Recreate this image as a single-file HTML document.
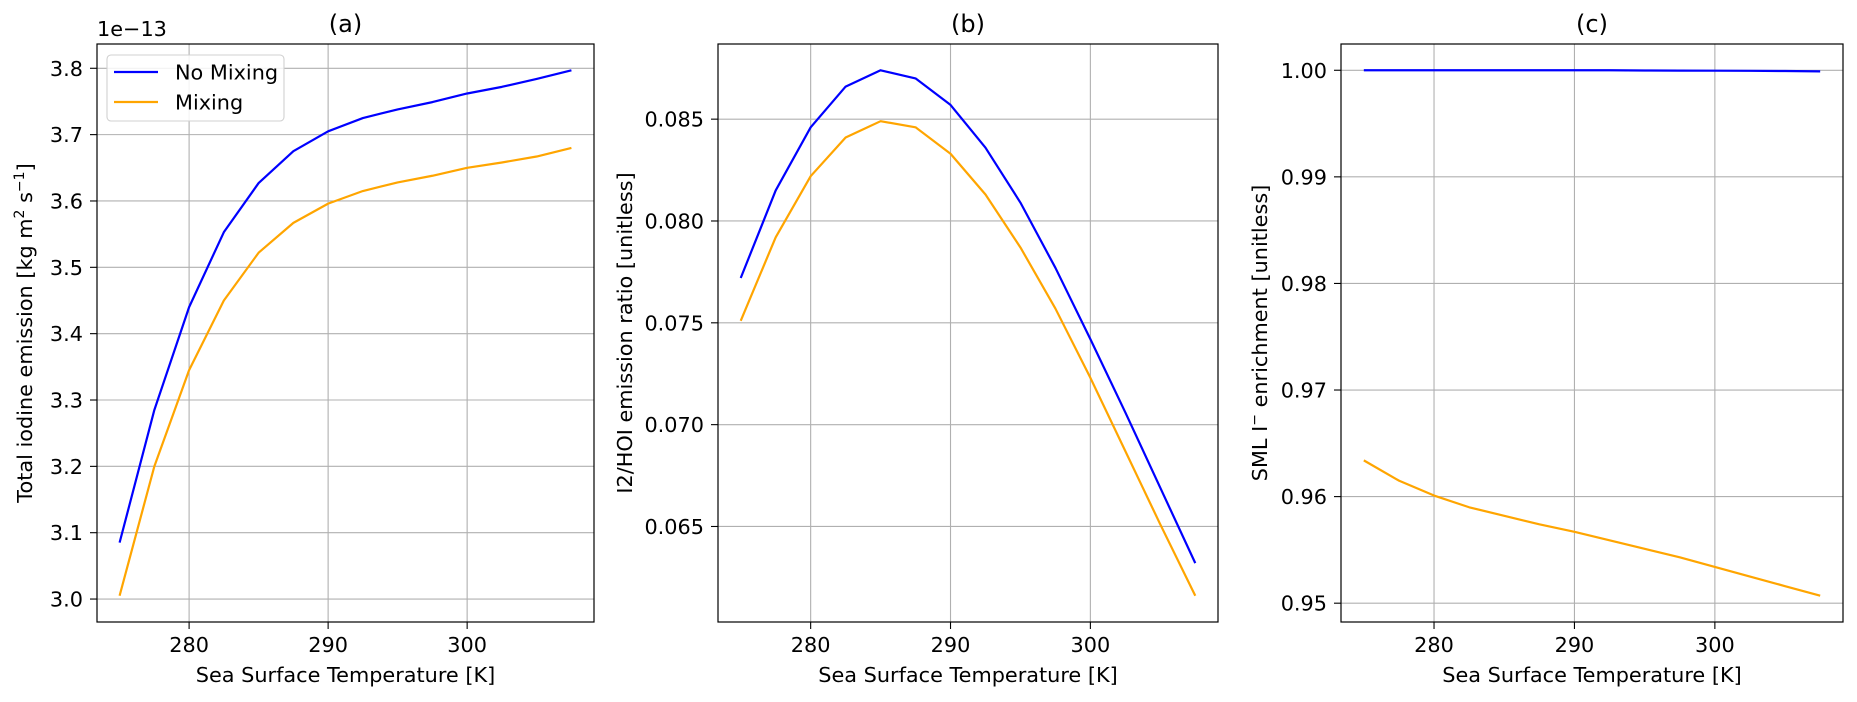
<!DOCTYPE html>
<html><head><meta charset="utf-8"><style>
html,body{margin:0;padding:0;background:#fff;}
svg{display:block;font-family:"DejaVu Sans","Liberation Sans",sans-serif;}
</style></head><body>
<svg id="fig" width="1857" height="702" viewBox="0 0 1857 702" xmlns="http://www.w3.org/2000/svg"></svg>
<script>
const sst = [275,277.5,280,282.5,285,287.5,290,292.5,295,297.5,300,302.5,305,307.5];
const aNoMix = [3.085,3.285,3.44,3.553,3.627,3.675,3.705,3.725,3.738,3.749,3.762,3.772,3.784,3.797];
const aMix = [3.005,3.2,3.345,3.45,3.522,3.567,3.596,3.615,3.628,3.638,3.650,3.658,3.667,3.680];
const bNoMix = [0.0772,0.0815,0.0846,0.0866,0.0874,0.0870,0.0857,0.0836,0.0809,0.0777,0.0742,0.0706,0.0669,0.0632];
const bMix = [0.0751,0.0792,0.0822,0.0841,0.0849,0.0846,0.0833,0.0813,0.0787,0.0757,0.0723,0.0687,0.0651,0.0616];
const cNoMix = [1.0000,1.0000,1.0000,1.0000,1.0000,1.0000,1.0000,1.0000,0.99998,0.99997,0.99996,0.99995,0.99993,0.9999];
const cMix = [0.9634,0.9615,0.9601,0.9590,0.9582,0.9574,0.9567,0.9559,0.9551,0.9543,0.9534,0.9525,0.9516,0.9507];
const xTicks = [280,290,300];
const aTicks = [3.0,3.1,3.2,3.3,3.4,3.5,3.6,3.7,3.8];
const aTickLabels = ["3.0","3.1","3.2","3.3","3.4","3.5","3.6","3.7","3.8"];
const bTicks = [0.065,0.070,0.075,0.080,0.085];
const bTickLabels = ["0.065","0.070","0.075","0.080","0.085"];
const cTicks = [0.95,0.96,0.97,0.98,0.99,1.00];
const cTickLabels = ["0.95","0.96","0.97","0.98","0.99","1.00"];

const NS="http://www.w3.org/2000/svg";
const svg=document.getElementById('fig');
function mk(tag,attrs,parent){const e=document.createElementNS(NS,tag);for(const k in attrs)e.setAttribute(k,attrs[k]);(parent||svg).appendChild(e);return e;}

const TOP=44,BOT=622,FS=20.8;
function panel(cfg){
  const g=mk('g',{});
  
  
  const L=cfg.left,R=cfg.right;
  const xmin=Math.min(...sst),xmax=Math.max(...sst),xm=(xmax-xmin)*0.05;
  const x0=xmin-xm,x1=xmax+xm;
  const all=cfg.series.flatMap(s=>s.data);
  const ymin=Math.min(...all),ymax=Math.max(...all),ym=(ymax-ymin)*0.05;
  const y0=ymin-ym,y1=ymax+ym;
  const X=v=>L+(v-x0)/(x1-x0)*(R-L);
  const Y=v=>BOT-(v-y0)/(y1-y0)*(BOT-TOP);
  xTicks.forEach(t=>{
    const l=mk('line',{x1:X(t),x2:X(t),y1:TOP,y2:BOT,stroke:'#b0b0b0','stroke-width':1.1},g);
    
    
    mk('line',{x1:X(t),x2:X(t),y1:BOT,y2:BOT+7,stroke:'#000','stroke-width':1.1},g);
    const tx=mk('text',{x:X(t),y:BOT+30,'font-size':FS,'text-anchor':'middle',fill:'#000'},g);
    tx.textContent=t;
    
    
  });
  cfg.ticks.forEach((t,i)=>{
    if(Y(t)<TOP-0.5||Y(t)>BOT+0.5)return;
    const l=mk('line',{x1:L,x2:R,y1:Y(t),y2:Y(t),stroke:'#b0b0b0','stroke-width':1.1},g);
    
    
    mk('line',{x1:L-7,x2:L,y1:Y(t),y2:Y(t),stroke:'#000','stroke-width':1.1},g);
    const tx=mk('text',{x:L-14,y:Y(t)+7.5,'font-size':FS,'text-anchor':'end',fill:'#000'},g);
    tx.textContent=cfg.tickLabels[i];
    
    
  });
  cfg.series.forEach(s=>{
    const p=mk('polyline',{points:sst.map((v,i)=>X(v)+','+Y(s.data[i])).join(' '),fill:'none',stroke:s.color,'stroke-width':2.2,'stroke-linejoin':'round'},g);
    
    
  });
  mk('rect',{x:L,y:TOP,width:R-L,height:BOT-TOP,fill:'none',stroke:'#000','stroke-width':1.2},g);
  const t=mk('text',{x:(L+R)/2,y:32,'font-size':24,'text-anchor':'middle',fill:'#000'},g);
  t.textContent=cfg.title;
  
  
  const xl=mk('text',{x:(L+R)/2,y:682,'font-size':FS,'text-anchor':'middle',fill:'#000'},g);
  xl.textContent='Sea Surface Temperature [K]';
  
  
  const yl=mk('text',{x:0,y:0,'font-size':FS,'text-anchor':'middle',fill:'#000',transform:`translate(${cfg.ylx},${(TOP+BOT)/2}) rotate(-90)`},g);
  yl.innerHTML=cfg.ylabel;
  
  
  return g;
}
panel({name:'panel-a',left:97,right:594,title:'(a)',ticks:aTicks,tickLabels:aTickLabels,ylx:32,
  ylabel:'Total iodine emission [kg m<tspan dy="-8" font-size="14">2</tspan><tspan dy="8"> s</tspan><tspan dy="-8" font-size="14">−1</tspan><tspan dy="8">]</tspan>',
  series:[{name:'line-no-mixing',color:'#0000ff',data:aNoMix},{name:'line-mixing',color:'#ffa500',data:aMix}]});
panel({name:'panel-b',left:718,right:1218,title:'(b)',ticks:bTicks,tickLabels:bTickLabels,ylx:632,
  ylabel:'I2/HOI emission ratio [unitless]',
  series:[{name:'line-no-mixing',color:'#0000ff',data:bNoMix},{name:'line-mixing',color:'#ffa500',data:bMix}]});
panel({name:'panel-c',left:1341,right:1843,title:'(c)',ticks:cTicks,tickLabels:cTickLabels,ylx:1267,
  ylabel:'SML I<tspan dy="-8" font-size="14">−</tspan><tspan dy="8"> enrichment [unitless]</tspan>',
  series:[{name:'line-no-mixing',color:'#0000ff',data:cNoMix},{name:'line-mixing',color:'#ffa500',data:cMix}]});
const off=mk('text',{x:97,y:36,'font-size':FS,fill:'#000'});
off.textContent='1e−13';


const lg=mk('g',{});


mk('rect',{x:107,y:55,width:177,height:66,rx:4,fill:'#fff','fill-opacity':0.85,stroke:'#d0d0d0','stroke-width':1.1},lg);
[['No Mixing','#0000ff',72],['Mixing','#ffa500',102]].forEach(([lab,col,y])=>{
  const e=mk('g',{},lg);
  
  
  mk('line',{x1:114,x2:158,y1:y,y2:y,stroke:col,'stroke-width':2.2},e);
  const t=mk('text',{x:175,y:y+7.5,'font-size':FS,fill:'#000'},e);
  t.textContent=lab;
});
</script>
</body></html>
